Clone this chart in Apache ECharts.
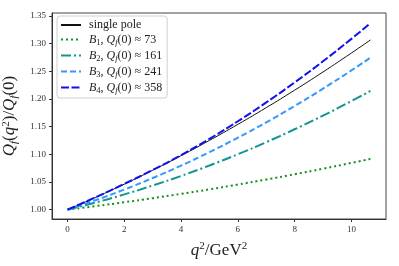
<!DOCTYPE html>
<html><head><meta charset="utf-8">
<script src="https://cdn.jsdelivr.net/npm/echarts@6/dist/echarts.min.js"></script>
<style>html,body{margin:0;padding:0;background:#fff}#c{width:399px;height:266px}</style>
</head><body><div id="c"></div>
<script>
const q2 = [0,1,2,3,4,5,6,7,8,9,10,10.67];
const singlePole = [1.0000,1.0224,1.0461,1.0712,1.0975,1.1251,1.1541,1.1843,1.2159,1.2488,1.2830,1.3066];
const B1 = [1.0000,1.0064,1.0133,1.0206,1.0284,1.0366,1.0453,1.0544,1.0639,1.0739,1.0844,1.0916];
const B2 = [1.0000,1.0130,1.0275,1.0435,1.0609,1.0798,1.1001,1.1219,1.1452,1.1699,1.1961,1.2145];
const B3 = [1.0000,1.0173,1.0363,1.0571,1.0796,1.1039,1.1300,1.1577,1.1873,1.2186,1.2516,1.2747];
const B4 = [1.0000,1.0226,1.0466,1.0716,1.0985,1.1280,1.1597,1.1937,1.2299,1.2681,1.3086,1.3370];
const xTicks = [0,2,4,6,8,10];
const yTicks = [1.00,1.05,1.10,1.15,1.20,1.25,1.30,1.35];
const seriesNames = ['single pole','B1','B2','B3','B4'];
const qf0 = {B1:'73',B2:'161',B3:'241',B4:'358'};

const pair = arr => q2.map((x,i)=>[x,arr[i]]);
const serif = 'Liberation Serif';
const chart = echarts.init(document.getElementById('c'), null, {renderer:'canvas'});
const mk = (name, data, color, width, type) => ({
  name, type:'line', data: pair(data), smooth:true, symbol:'none', legendIcon:'none',
  lineStyle:{color, width, type, cap:'butt'}, itemStyle:{color}, z: 3
});
const rich = {
  i:{fontFamily:serif,fontStyle:'italic',fontSize:12,color:'#222'},
  s:{fontFamily:serif,fontStyle:'italic',fontSize:8.5,color:'#222',verticalAlign:'bottom',padding:[6,0,0,0]},
  t:{fontFamily:serif,fontSize:8.5,color:'#222',verticalAlign:'bottom',padding:[6,0,0,0]},
  n:{fontFamily:serif,fontSize:12,color:'#222'}
};
chart.setOption({
  animation:false,
  grid:{left:52,right:13,top:13,bottom:47,show:true,borderColor:'#444',borderWidth:1,outerBoundsMode:'none',containLabel:false},
  legend:{
    left:57, top:16, orient:'vertical', itemGap:2.5, itemWidth:20, itemHeight:13,
    padding:[3,5,3,3], borderColor:'#d0d0d0', borderWidth:1, borderRadius:3, backgroundColor:'#fff',
    data: seriesNames,
    itemStyle:{opacity:0},
    formatter: n => n==='single pole' ? '{n|single pole}' :
      '{i|B}{t|'+n.slice(1)+'}{n|, }{i|Q}{s|f}{n|(0) ≈ '+qf0[n]+'}',
    textStyle:{rich, fontFamily:serif, fontSize:12, color:'#222', padding:[0,0,0,3]}
  },
  xAxis:{
    type:'value', min:-0.55, max:11.22,
    splitLine:{show:false},
    axisLine:{show:true,onZero:false,lineStyle:{color:'#333',width:1}},
    axisTick:{show:true,length:3,customValues:xTicks,lineStyle:{color:'#333'}},
    axisLabel:{customValues:xTicks,fontFamily:serif,fontSize:9,color:'#333',margin:6},
    name:'{i|q}{p|2}{n|/GeV}{p|2}', nameLocation:'middle', nameGap:22,
    nameTextStyle:{rich:{
      i:{fontFamily:serif,fontStyle:'italic',fontSize:17,color:'#222'},
      n:{fontFamily:serif,fontSize:17,color:'#222'},
      p:{fontFamily:serif,fontSize:11,color:'#222',verticalAlign:'top',padding:[0,0,8,0]}
    }}
  },
  yAxis:{
    type:'value', min:0.983, max:1.3554,
    splitLine:{show:false},
    axisLine:{show:true,onZero:false,lineStyle:{color:'#333',width:1}},
    axisTick:{show:true,length:3,customValues:yTicks,lineStyle:{color:'#333'}},
    axisLabel:{customValues:yTicks,fontFamily:serif,fontSize:9,color:'#333',margin:6,
      formatter:v=>v.toFixed(2)},
    name:'{i|Q}{s|f}{n|(}{i|q}{p|2}{n|)/}{i|Q}{s|f}{n|(0)}', nameLocation:'middle', nameGap:25, nameRotate:90,
    nameTextStyle:{rich:{
      i:{fontFamily:serif,fontStyle:'italic',fontSize:17,color:'#222'},
      n:{fontFamily:serif,fontSize:17,color:'#222'},
      s:{fontFamily:serif,fontStyle:'italic',fontSize:11,color:'#222',verticalAlign:'bottom',padding:[8,0,0,0]},
      p:{fontFamily:serif,fontSize:11,color:'#222',verticalAlign:'top',padding:[0,0,8,0]}
    }}
  },
  series:[
    mk('single pole', singlePole, '#111', 1, 'solid'),
    mk('B1', B1, '#1a8f1a', 2, [2,3]),
    mk('B2', B2, '#129494', 2, [10,3,2,3]),
    mk('B3', B3, '#3399ff', 2, [6,3]),
    mk('B4', B4, '#1010ee', 2, [8,2.5])
  ]
});
</script></body></html>
